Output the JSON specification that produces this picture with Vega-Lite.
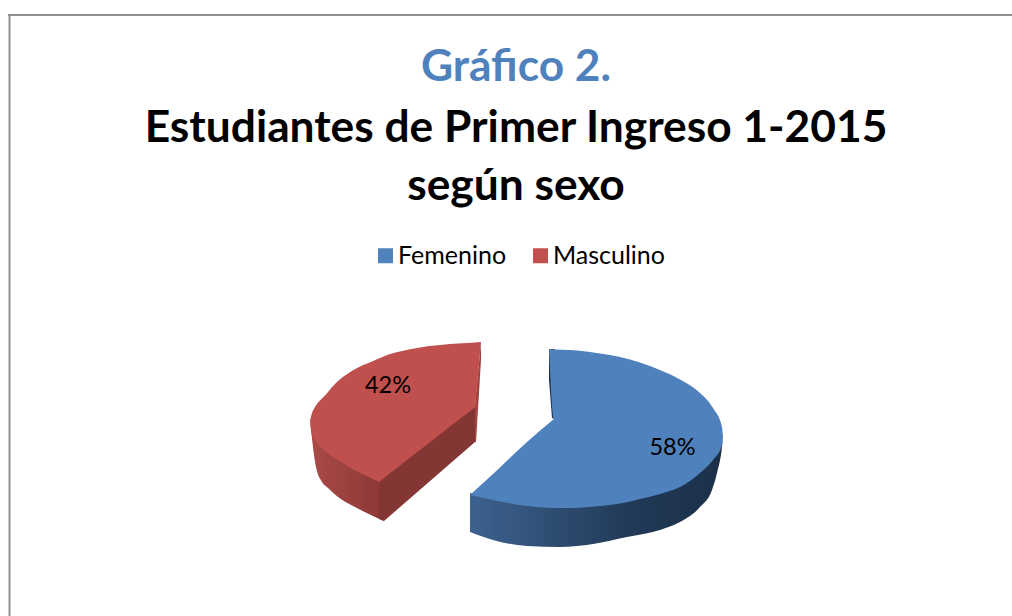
{"$schema":"https://vega.github.io/schema/vega-lite/v6.json","width":1012,"height":616,"padding":0,"autosize":"none","background":"white","view":{"stroke":null},
"title":{"text":"Gráfico 2.","subtitle":["Estudiantes de Primer Ingreso 1-2015","según sexo"],"anchor":"middle","frame":"group","dx":10,"offset":-209,"font":"Lato","fontWeight":"bold","fontSize":44.3,"color":"#4f81bd","subtitleFont":"Lato","subtitleFontWeight":"bold","subtitleFontSize":44.3,"subtitleColor":"#000000","subtitleLineHeight":58,"subtitlePadding":16},
"datasets":{
"marco":[{"x":9.5,"x2":9.5,"y":14,"y2":616},{"x":8,"x2":1012,"y":15,"y2":15}],
"ladoAzul":[{"x":470,"y":493,"y2":532},{"x":493,"y":497,"y2":540},{"x":527,"y":503,"y2":546},{"x":560,"y":505,"y2":547},{"x":593,"y":505,"y2":544},{"x":627,"y":500,"y2":537},{"x":660,"y":492,"y2":530},{"x":680,"y":485,"y2":522},{"x":700,"y":471,"y2":507},{"x":712,"y":458,"y2":490},{"x":717,"y":450,"y2":473},{"x":722,"y":443,"y2":447},{"x":723,"y":437,"y2":437}],
"muescaAzul":[{"x":549,"y":349,"y2":380},{"x":552,"y":349,"y2":418},{"x":555,"y":349,"y2":419}],
"ladoRojo":[{"x":310.5,"y":423,"y2":425},{"x":316,"y":438,"y2":467},{"x":322,"y":446,"y2":482},{"x":328,"y":451,"y2":488},{"x":338,"y":458,"y2":497},{"x":355,"y":468,"y2":507},{"x":384,"y":478,"y2":521}],
"corteRojo":[{"x":379,"y":480,"y2":519},{"x":384,"y":477,"y2":521},{"x":475,"y":405,"y2":442},{"x":476,"y":404,"y2":442}],
"cunaRoja":[{"x":475,"y":405,"y2":442},{"x":476,"y":393,"y2":442},{"x":481,"y":342,"y2":360}],
"caras":[
{"sexo":"Femenino","pieza":"a","x":549,"y":349,"y2":349},{"sexo":"Femenino","pieza":"a","x":554,"y":349.5,"y2":419},{"sexo":"Femenino","pieza":"a","x":555,"y":349.5,"y2":419},
{"sexo":"Femenino","pieza":"b","x":470,"y":495,"y2":495},{"sexo":"Femenino","pieza":"b","x":493,"y":474,"y2":500},{"sexo":"Femenino","pieza":"b","x":527,"y":442,"y2":506},{"sexo":"Femenino","pieza":"b","x":554.5,"y":418.5,"y2":508},
{"sexo":"Femenino","pieza":"d","x":554,"y":349.5,"y2":508},{"sexo":"Femenino","pieza":"d","x":570,"y":350,"y2":508},{"sexo":"Femenino","pieza":"d","x":590,"y":352,"y2":507},{"sexo":"Femenino","pieza":"d","x":600,"y":353.5,"y2":506},{"sexo":"Femenino","pieza":"d","x":620,"y":357,"y2":503.5},{"sexo":"Femenino","pieza":"d","x":640,"y":362.5,"y2":499},{"sexo":"Femenino","pieza":"d","x":660,"y":370,"y2":494},{"sexo":"Femenino","pieza":"d","x":680,"y":379.5,"y2":487},{"sexo":"Femenino","pieza":"d","x":700,"y":393,"y2":473},{"sexo":"Femenino","pieza":"d","x":713,"y":408,"y2":460},{"sexo":"Femenino","pieza":"d","x":722,"y":427,"y2":445},{"sexo":"Femenino","pieza":"d","x":723,"y":437,"y2":437},
{"sexo":"Masculino","pieza":"c","x":310,"y":421,"y2":421},{"sexo":"Masculino","pieza":"c","x":312,"y":413,"y2":435},{"sexo":"Masculino","pieza":"c","x":315,"y":407,"y2":440},{"sexo":"Masculino","pieza":"c","x":325,"y":395.5,"y2":451},{"sexo":"Masculino","pieza":"c","x":338,"y":381,"y2":460},{"sexo":"Masculino","pieza":"c","x":345,"y":375.5,"y2":464.5},{"sexo":"Masculino","pieza":"c","x":360,"y":366.5,"y2":473},{"sexo":"Masculino","pieza":"c","x":372,"y":361.5,"y2":478.5},{"sexo":"Masculino","pieza":"c","x":379.5,"y":358.3,"y2":482},
{"sexo":"Masculino","pieza":"e","x":379,"y":358.5,"y2":482},{"sexo":"Masculino","pieza":"e","x":386,"y":355.5,"y2":476.5},{"sexo":"Masculino","pieza":"e","x":400,"y":351.5,"y2":465.5},{"sexo":"Masculino","pieza":"e","x":420,"y":347.5,"y2":450},{"sexo":"Masculino","pieza":"e","x":450,"y":344,"y2":426.5},{"sexo":"Masculino","pieza":"e","x":475.5,"y":342.4,"y2":407},
{"sexo":"Masculino","pieza":"f","x":475,"y":342.5,"y2":407},{"sexo":"Masculino","pieza":"f","x":481,"y":342,"y2":342}],
"etiquetas":[{"sexo":"Femenino","porcentaje":"58%","x":672.5,"y":455},{"sexo":"Masculino","porcentaje":"42%","x":388,"y":393}]
},
"encoding":{"x":{"field":"x","type":"quantitative","scale":{"domain":[0,1012],"nice":false,"zero":false},"axis":null},"y":{"field":"y","type":"quantitative","stack":null,"scale":{"domain":[616,0],"nice":false,"zero":false},"axis":null}},
"layer":[
{"data":{"name":"marco"},"mark":{"type":"rule","color":"#8f8f8f","strokeWidth":2},"encoding":{"x2":{"field":"x2"},"y2":{"field":"y2"}}},
{"data":{"name":"ladoAzul"},"mark":{"type":"area","interpolate":"monotone","color":{"gradient":"linear","x1":0,"x2":1,"y1":0,"y2":0,"stops":[{"offset":0,"color":"#3d628f"},{"offset":0.6,"color":"#223b5a"},{"offset":1,"color":"#1c3048"}]}},"encoding":{"y2":{"field":"y2"}}},
{"data":{"name":"muescaAzul"},"mark":{"type":"area","color":"#1c3048"},"encoding":{"y2":{"field":"y2"}}},
{"data":{"name":"ladoRojo"},"mark":{"type":"area","interpolate":"monotone","color":{"gradient":"linear","x1":0,"x2":1,"y1":0,"y2":0,"stops":[{"offset":0,"color":"#aa4a47"},{"offset":1,"color":"#8a3836"}]}},"encoding":{"y2":{"field":"y2"}}},
{"data":{"name":"corteRojo"},"mark":{"type":"area","color":"#843634"},"encoding":{"y2":{"field":"y2"}}},
{"data":{"name":"cunaRoja"},"mark":{"type":"area","color":"#a24341"},"encoding":{"y2":{"field":"y2"}}},
{"data":{"name":"caras"},"mark":{"type":"area","interpolate":"monotone"},"encoding":{"y2":{"field":"y2"},"detail":{"field":"pieza"},"color":{"field":"sexo","type":"nominal","scale":{"domain":["Femenino","Masculino"],"range":["#4f81bd","#c0504d"]},"legend":{"title":null,"orient":"none","legendX":373,"legendY":243,"direction":"horizontal","symbolType":"square","symbolSize":225,"symbolStrokeWidth":0,"symbolOpacity":1,"labelFont":"Lato","labelFontSize":25,"labelColor":"#000000","columnPadding":21,"labelOffset":0}}}},
{"data":{"name":"etiquetas"},"mark":{"type":"text","font":"Lato","fontSize":23.5,"color":"#000000","align":"center","baseline":"alphabetic"},"encoding":{"text":{"field":"porcentaje"}}}
]}
